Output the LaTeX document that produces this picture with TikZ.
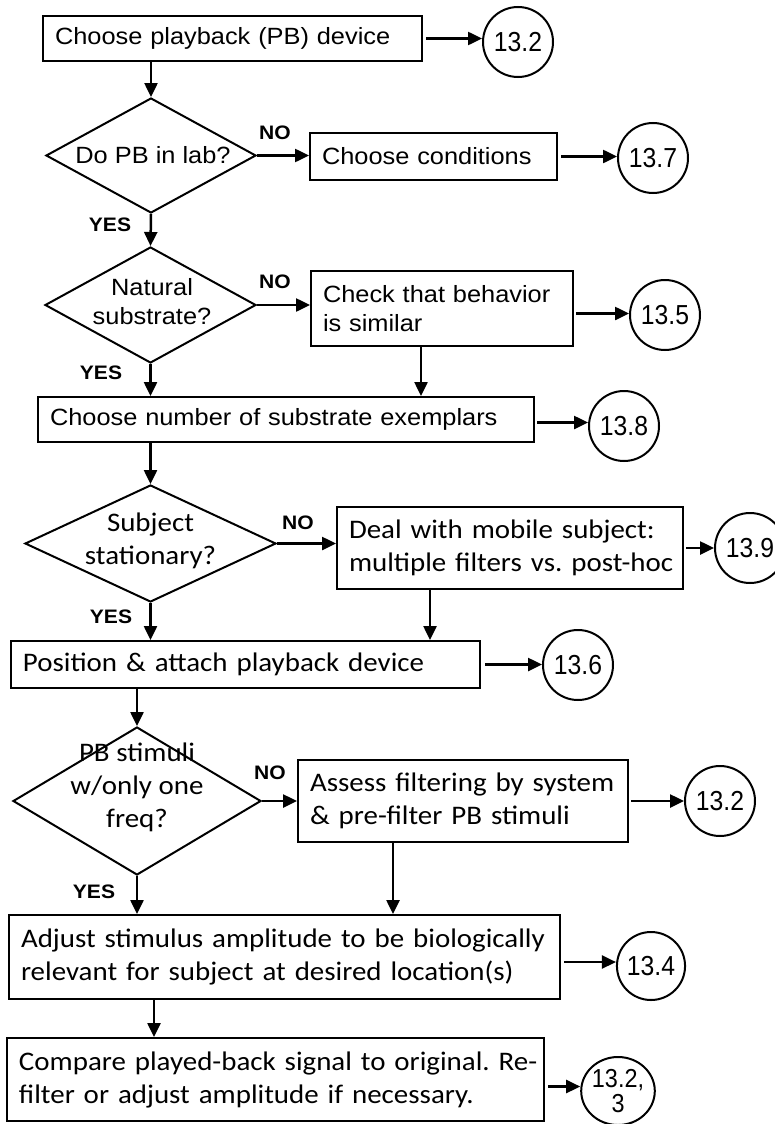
\documentclass[tikz,border=0pt]{standalone}
\usepackage{fontspec}
\setmainfont{Liberation Sans}[FakeStretch=1.08]
\newfontfamily\calfont{Carlito}[FakeStretch=1.08]
\newfontfamily\numfont{Liberation Sans}[FakeStretch=0.9]
\usetikzlibrary{shapes.geometric,arrows.meta}
\begin{document}
\frenchspacing
\begin{tikzpicture}[x=1pt,y=-1pt,
  ariatxt/.style={font=\fontsize{23.5}{29}\selectfont},
  caltxt/.style={font=\calfont\fontsize{26.8}{33}\selectfont},
  box/.style={draw, line width=2pt, rectangle, inner xsep=12pt, inner ysep=0pt, align=left},
  dia/.style={draw, diamond, line width=2pt, inner sep=0pt},
  dtxt/.style={align=center, inner sep=0pt},
  refc/.style={draw, circle, line width=2pt, inner sep=0pt, minimum size=70pt, align=center, font=\numfont\fontsize{27.5}{28}\selectfont},
  refe/.style={draw, ellipse, line width=2pt, inner sep=0pt, align=center, font=\numfont\fontsize{27.5}{28}\selectfont},
  lbl/.style={font=\bfseries\fontsize{19.5}{22}\selectfont, inner sep=0pt},
  arr/.style={line width=2.5pt, -{Triangle[length=14pt,width=13pt]}},
]
\useasboundingbox (0,0) rectangle (774,1124);
\fill[white] (0,0) rectangle (774,1124);

% boxes
\node[box, ariatxt, text width=355pt, minimum height=45pt] (b1) at (232.5,38.5) {\mbox{Choose playback (PB) device}};
\node[box, ariatxt, text width=223pt, minimum height=47pt] (b2) at (433.5,156.5) {\mbox{Choose conditions}};
\node[box, ariatxt, text width=238pt, minimum height=75pt] (b3) at (442,308.5) {\mbox{Check that behavior}\\\mbox{is similar}};
\node[box, ariatxt, text width=472pt, minimum height=45pt] (b4) at (286,419.5) {\mbox{Choose number of substrate exemplars}};
\node[box, caltxt, text width=322pt, minimum height=82pt] (b5) at (510,548) {\mbox{Deal with mobile subject:}\\\mbox{multiple filters vs. post-hoc}};
\node[box, caltxt, text width=445pt, minimum height=47pt] (b6) at (245.5,664.5) {\mbox{Position \& attach playback device}};
\node[box, caltxt, text width=306pt, minimum height=82pt] (b7) at (463,801) {\mbox{Assess filtering by system}\\\mbox{\& pre-filter PB stimuli}};
\node[box, caltxt, text width=527pt, minimum height=84pt] (b8) at (284.5,957) {\mbox{Adjust stimulus amplitude to be biologically}\\\mbox{relevant for subject at desired location(s)}};
\node[box, caltxt, text width=513pt, minimum height=83pt] (b9) at (275.5,1079.5) {\mbox{Compare played-back signal to original. Re-}\\\mbox{filter or adjust amplitude if necessary.}};

% diamonds
\node[dia, minimum width=210pt, minimum height=115pt] (d1) at (151,155.5) {};
\node[dia, minimum width=211pt, minimum height=116pt] (d2) at (150.5,305) {};
\node[dia, minimum width=251pt, minimum height=117pt] (d3) at (150.5,543.5) {};
\node[dia, minimum width=248pt, minimum height=148pt] (d4) at (137,801) {};
\node[dtxt, ariatxt] (d1t) at (153,155.5) {Do PB in lab?};
\node[dtxt, ariatxt] (d2t) at (152,302) {Natural\\substrate?};
\node[dtxt, caltxt] (d3t) at (150.5,541) {Subject\\stationary?};
\node[dtxt, caltxt] (d4t) at (137,787) {PB stimuli\\w/only one\\freq?};

% reference circles
\node[refc] (c1) at (518,42) {13.2};
\node[refc] (c2) at (653,158) {13.7};
\node[refc] (c3) at (665,315) {13.5};
\node[refc] (c4) at (624,426) {13.8};
\node[refc] (c5) at (750,548) {13.9};
\node[refc] (c6) at (578,665) {13.6};
\node[refc] (c7) at (720,801) {13.2};
\node[refe, minimum width=64pt, minimum height=68pt] (c8) at (651,966) {13.4};
\node[refe, minimum width=60pt, minimum height=68pt, font=\numfont\fontsize{26}{25}\selectfont] (c9) at (618,1091) {13.2,\\3};

% labels
\node[lbl] (no1) at (275,133) {NO};
\node[lbl] (no2) at (275,282) {NO};
\node[lbl] (no3) at (298,523) {NO};
\node[lbl] (no4) at (270,773) {NO};
\node[lbl] (yes1) at (110,225) {YES};
\node[lbl] (yes2) at (101,373) {YES};
\node[lbl] (yes3) at (111,617) {YES};
\node[lbl] (yes4) at (94,892) {YES};

% arrows to references
\draw[arr] ([xshift=3pt]b1.east) -- (b1.east -| c1.west);
\draw[arr] ([xshift=3pt]b2.east) -- (b2.east -| c2.west);
\draw[arr] ([xshift=2pt,yshift=-5pt]b3.east) -- ([yshift=-5pt]b3.east -| c3.west);
\draw[arr] ([xshift=2pt,yshift=-3pt]b4.east) -- ([yshift=-3pt]b4.east -| c4.west);
\draw[arr] ([xshift=2pt]b5.east) -- (b5.east -| c5.west);
\draw[arr] ([xshift=4pt]b6.east) -- (b6.east -| c6.west);
\draw[arr] ([xshift=2pt]b7.east) -- (b7.east -| c7.west);
\draw[arr] ([xshift=3pt,yshift=-5pt]b8.east) -- ([yshift=-5pt]b8.east -| c8.west);
\draw[arr] ([xshift=3pt,yshift=-7pt]b9.east) -- ([yshift=-7pt]b9.east -| c9.west);

% flow arrows
\draw[arr] (b1.south -| d1.north) -- (d1.north);
\draw[arr] (d1.south) -- (d2.north);
\draw[arr] (d1.east) -- (d1.east -| b2.west);
\draw[arr] (d2.east) -- (d2.east -| b3.west);
\draw[arr] (d2.south) -- (d2.south |- b4.north);
\draw[arr] ([xshift=-21pt]b3.south) -- ([xshift=-21pt]b3.south |- b4.north);
\draw[arr] (b4.south -| d3.north) -- (d3.north);
\draw[arr] (d3.east) -- (d3.east -| b5.west);
\draw[arr] (d3.south) -- (d3.south |- b6.north);
\draw[arr] ([xshift=-80pt]b5.south) -- ([xshift=-80pt]b5.south |- b6.north);
\draw[arr] (b6.south -| d4.north) -- (d4.north);
\draw[arr] (d4.east) -- (d4.east -| b7.west);
\draw[arr] (d4.south) -- (d4.south |- b8.north);
\draw[arr] ([xshift=-70pt]b7.south) -- ([xshift=-70pt]b7.south |- b8.north);
\draw[arr] ([xshift=-130.5pt]b8.south) -- ([xshift=-130.5pt]b8.south |- b9.north);
\end{tikzpicture}
\end{document}
